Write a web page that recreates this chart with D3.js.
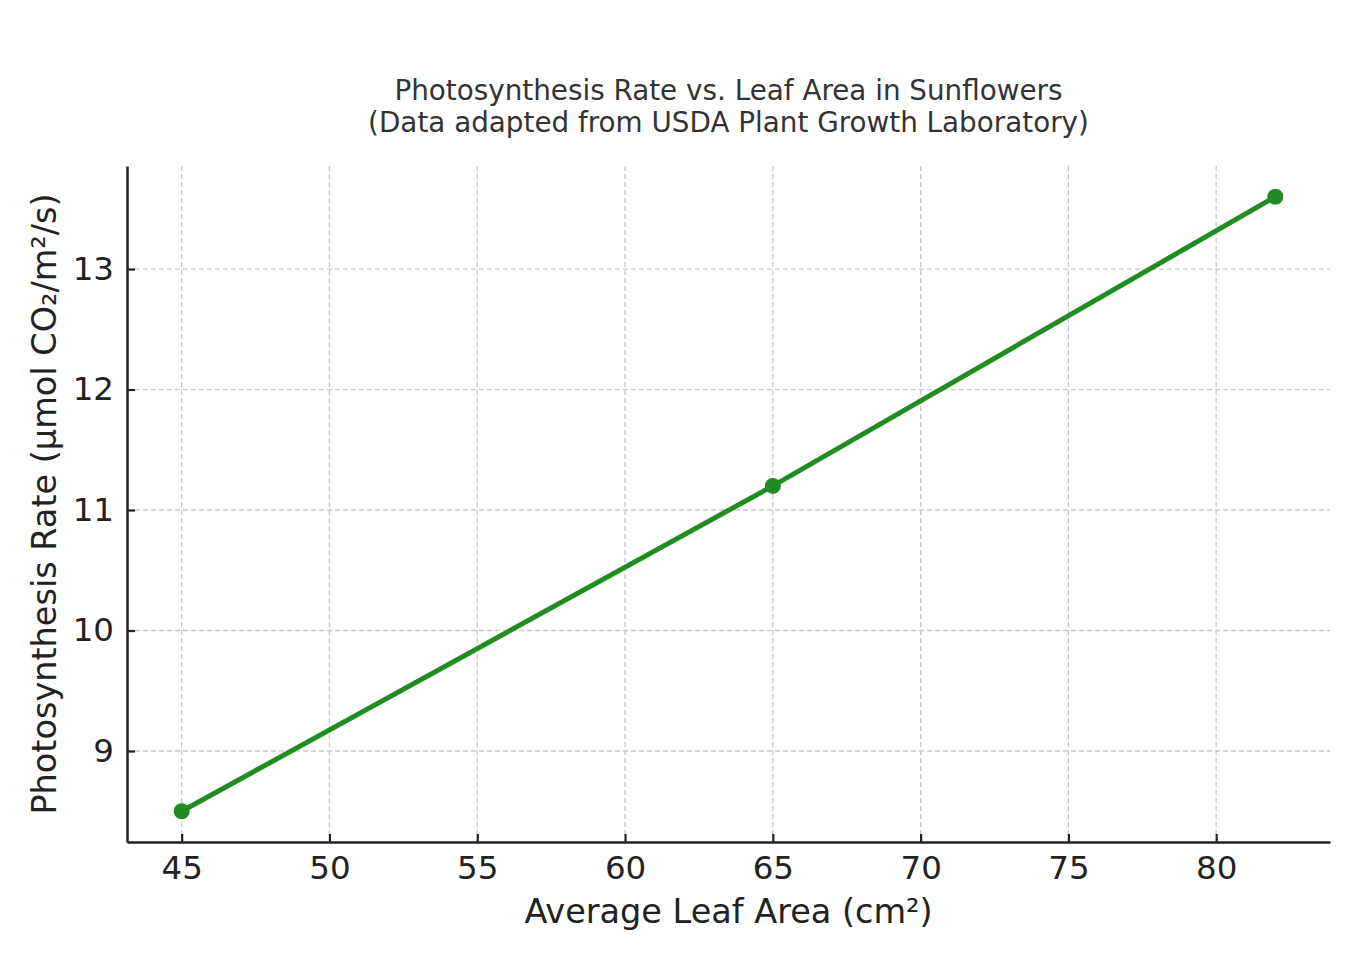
<!DOCTYPE html>
<html>
<head>
<meta charset="utf-8">
<script src="https://cdn.jsdelivr.net/npm/d3@7"></script>
<style>
  body { margin: 0; background: #fff; }
  text { font-family: "DejaVu Sans", sans-serif; }
</style>
</head>
<body>
<svg id="chart"></svg>
<script>
const leafArea = [45, 65, 82];
const photoRate = [8.5, 11.2, 13.6];
const xTicks = [45, 50, 55, 60, 65, 70, 75, 80];
const yTicks = [9, 10, 11, 12, 13];

const width = 1360, height = 960;
const margin = {top: 166, right: 30, bottom: 118, left: 127};
const w = width - margin.left - margin.right;
const h = height - margin.top - margin.bottom;

const svg = d3.select("#chart").attr("width", width).attr("height", height);
const g = svg.append("g").attr("transform", `translate(${margin.left},${margin.top})`);

// matplotlib-like 5% padding
const xPad = (d3.max(leafArea) - d3.min(leafArea)) * 0.05;
const yPad = (d3.max(photoRate) - d3.min(photoRate)) * 0.05;
const x = d3.scaleLinear().domain([d3.min(leafArea) - xPad, d3.max(leafArea) + xPad]).range([0, w]);
const y = d3.scaleLinear().domain([d3.min(photoRate) - yPad, d3.max(photoRate) + yPad]).range([h, 0]);

// grid
g.append("g").selectAll("line").data(xTicks).join("line")
    .attr("x1", d => x(d)).attr("x2", d => x(d)).attr("y1", 0).attr("y2", h)
    .attr("stroke", "#c8c8c8").attr("stroke-width", 1.3).attr("stroke-dasharray", "5,3");
g.append("g").selectAll("line").data(yTicks).join("line")
    .attr("y1", d => y(d)).attr("y2", d => y(d)).attr("x1", 0).attr("x2", w)
    .attr("stroke", "#c8c8c8").attr("stroke-width", 1.3).attr("stroke-dasharray", "5,3");

// axes, ticks pointing inward
const xAxis = g.append("g").attr("transform", `translate(0,${h})`)
    .call(d3.axisBottom(x).tickValues(xTicks).tickFormat(d3.format("d"))
        .tickSize(-8).tickPadding(14).tickSizeOuter(0));
const yAxis = g.append("g")
    .call(d3.axisLeft(y).tickValues(yTicks).tickFormat(d3.format("d"))
        .tickSize(-8).tickPadding(13).tickSizeOuter(0));
[xAxis, yAxis].forEach(a => {
    a.attr("font-family", null).attr("font-size", null);
    a.select(".domain").attr("stroke", "#222").attr("stroke-width", 2.5);
    a.selectAll(".tick line").attr("stroke", "#222").attr("stroke-width", 2.2);
    a.selectAll(".tick text").attr("fill", "#222").style("font-size", "32.5px");
});

const pts = leafArea.map((d, i) => [d, photoRate[i]]);
g.append("path").datum(pts)
    .attr("fill", "none").attr("stroke", "#228B22").attr("stroke-width", 5)
    .attr("d", d3.line().x(d => x(d[0])).y(d => y(d[1])));
g.append("g").selectAll("circle").data(pts).join("circle")
    .attr("cx", d => x(d[0])).attr("cy", d => y(d[1])).attr("r", 8)
    .attr("fill", "#228B22");

// titles
const cx = margin.left + w / 2;
svg.append("text").attr("x", cx).attr("y", 100).attr("text-anchor", "middle")
    .style("font-size", "27.8px").attr("fill", "#333")
    .text("Photosynthesis Rate vs. Leaf Area in Sunflowers");
svg.append("text").attr("x", cx).attr("y", 132).attr("text-anchor", "middle")
    .style("font-size", "27.8px").attr("fill", "#333")
    .text("(Data adapted from USDA Plant Growth Laboratory)");

svg.append("text").attr("x", cx).attr("y", 923).attr("text-anchor", "middle")
    .style("font-size", "33.5px").attr("fill", "#222")
    .text("Average Leaf Area (cm²)");
svg.append("text")
    .attr("transform", `translate(56,${margin.top + h / 2}) rotate(-90)`)
    .attr("text-anchor", "middle")
    .style("font-size", "33.5px").attr("fill", "#222")
    .text("Photosynthesis Rate (μmol CO₂/m²/s)");
</script>
</body>
</html>
